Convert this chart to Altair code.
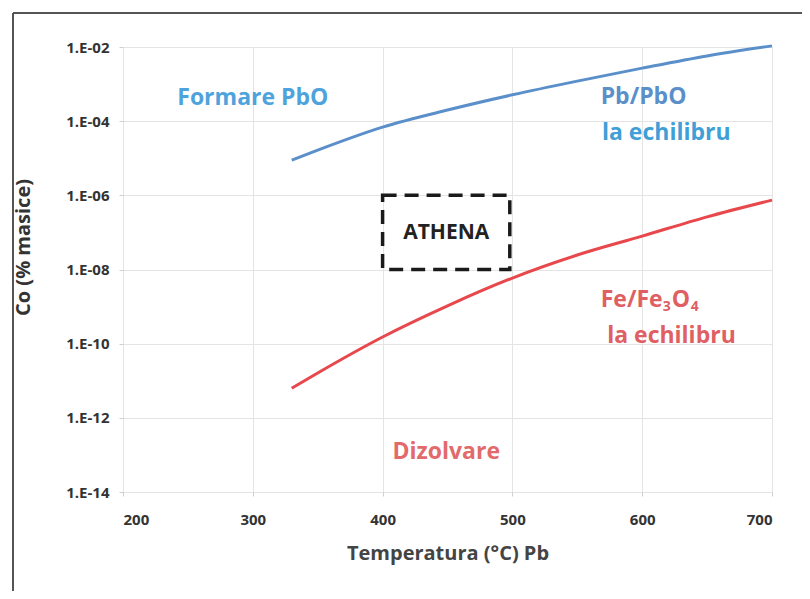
import altair as alt
import pandas as pd

# Data (log10 of concentration, % masice)
temps = [330, 350, 400, 450, 500, 550, 600, 650, 700]
pbo_log = [-5.05, -4.78, -4.16, -3.70, -3.29, -2.92, -2.57, -2.24, -1.97]
fe_log = [-11.20, -10.79, -9.82, -8.98, -8.23, -7.61, -7.10, -6.58, -6.13]

x_ticks = [200, 300, 400, 500, 600, 700]
y_exps = [-2, -4, -6, -8, -10, -12, -14]
y_tick_labels = ["1.E-02", "1.E-04", "1.E-06", "1.E-08", "1.E-10", "1.E-12", "1.E-14"]

# annotations: text, temperature, log10 value, colour, align, size
ann_text = ["Formare PbO", "Pb/PbO", "la echilibru", "la echilibru", "Dizolvare", "ATHENA"]
ann_x = [300, 568, 569, 573, 449, 449]
ann_y = [-3.38, -3.35, -4.32, -9.79, -12.92, -7.02]
ann_col = ["#4ea3dc", "#5b8fca", "#3f9fd6", "#e05f63", "#e26a6a", "#222222"]
ann_align = ["center", "left", "left", "left", "center", "center"]
ann_size = [23, 23, 23, 23, 23, 21]

# "Fe/Fe3O4" label split in pieces so that the subscripts are small
fe_parts = ["Fe/Fe", "3", "O", "4"]
fe_sizes = [23, 14, 23, 14]
fe_dx = [0, 62, 71, 90]
fe_dy = [0, 7, 0, 7]
fe_pos = (568, -8.82)

box_x = [400, 498]
box_y = [-6, -8]

FONT = "Open Sans"

rows = []
for t, a, b in zip(temps, pbo_log, fe_log):
    rows.append({"T": t, "C": 10 ** a, "s": "Pb/PbO"})
    rows.append({"T": t, "C": 10 ** b, "s": "Fe/Fe3O4"})
df = pd.DataFrame(rows)

ann = pd.DataFrame({"text": ann_text, "T": ann_x, "C": [10 ** v for v in ann_y],
                    "col": ann_col, "align": ann_align, "size": ann_size})
box = pd.DataFrame({"x": [box_x[0]], "x2": [box_x[1]], "y": [10 ** box_y[0]], "y2": [10 ** box_y[1]]})

label_expr = "[" + ",".join("'%s'" % l for l in y_tick_labels) + "][(-round(log(datum.value)/LN10) - 2)/2]"

xscale = alt.Scale(domain=[200, 700], nice=False)
yscale = alt.Scale(type="log", domain=[1e-14, 1e-2], nice=False)

xaxis = alt.Axis(values=x_ticks, title="Temperatura (\u00b0C)  Pb", grid=True, gridColor="#e4e4e4",
                 domain=False, tickColor="#cfcfcf", tickSize=4, labelPadding=16,
                 labelFont=FONT, labelFontSize=15, labelFontWeight="bold", labelColor="#333333",
                 titleFont=FONT, titleFontSize=20, titleFontWeight="bold", titleColor="#444444",
                 titlePadding=16)
yaxis = alt.Axis(values=[10 ** e for e in y_exps], labelExpr=label_expr, title="Co (% masice)",
                 grid=True, gridColor="#e4e4e4", domain=False, tickColor="#cfcfcf", tickSize=4,
                 labelPadding=10, labelFont=FONT, labelFontSize=15, labelFontWeight="bold",
                 labelColor="#333333", titleFont=FONT, titleFontSize=20, titleFontWeight="bold",
                 titleColor="#333333", titleX=-90, titleY=200)

lines = alt.Chart(df).mark_line(interpolate="monotone", strokeWidth=3).encode(
    x=alt.X("T:Q", scale=xscale, axis=xaxis),
    y=alt.Y("C:Q", scale=yscale, axis=yaxis),
    color=alt.Color("s:N", scale=alt.Scale(domain=["Pb/PbO", "Fe/Fe3O4"], range=["#5b8fca", "#e8474c"]),
                    legend=None),
    detail="s:N",
)

rect = alt.Chart(box).mark_rect(fill=None, stroke="#1a1a1a", strokeWidth=3.5, strokeDash=[14, 8]).encode(
    x=alt.X("x:Q", scale=xscale), x2="x2:Q", y=alt.Y("y:Q", scale=yscale), y2="y2:Q")

texts = []
for al in ["center", "left"]:
    texts.append(
        alt.Chart(ann[ann["align"] == al]).mark_text(font=FONT, fontWeight="bold", align=al,
                                                      baseline="middle").encode(
            x=alt.X("T:Q", scale=xscale), y=alt.Y("C:Q", scale=yscale), text="text:N",
            color=alt.Color("col:N", scale=None), size=alt.Size("size:Q", scale=None))
    )

fe_df = pd.DataFrame({"T": [fe_pos[0]], "C": [10 ** fe_pos[1]]})
for part, sz, dx, dy in zip(fe_parts, fe_sizes, fe_dx, fe_dy):
    texts.append(
        alt.Chart(fe_df).mark_text(font=FONT, fontWeight="bold", align="left", baseline="middle",
                                   fontSize=sz, dx=dx, dy=dy, color="#e05f63", text=part).encode(
            x=alt.X("T:Q", scale=xscale), y=alt.Y("C:Q", scale=yscale))
    )

one = pd.DataFrame({"a": [0]})
frame_top = alt.Chart(one).mark_rule(color="#555555", strokeWidth=2).encode(
    x=alt.value(-110), x2=alt.value(700), y=alt.value(-34))
frame_left = alt.Chart(one).mark_rule(color="#555555", strokeWidth=2).encode(
    x=alt.value(-110), y=alt.value(-34), y2=alt.value(560))

chart = alt.layer(lines, rect, *texts, frame_top, frame_left).properties(
    width=649, height=445,
    padding={"left": 115, "top": 39, "right": 30, "bottom": 99},
    autosize=alt.AutoSizeParams(type="none"),
).configure_view(stroke=None).configure(background="white")

chart.save("out.html", embed_options={"renderer": "svg", "actions": False})
